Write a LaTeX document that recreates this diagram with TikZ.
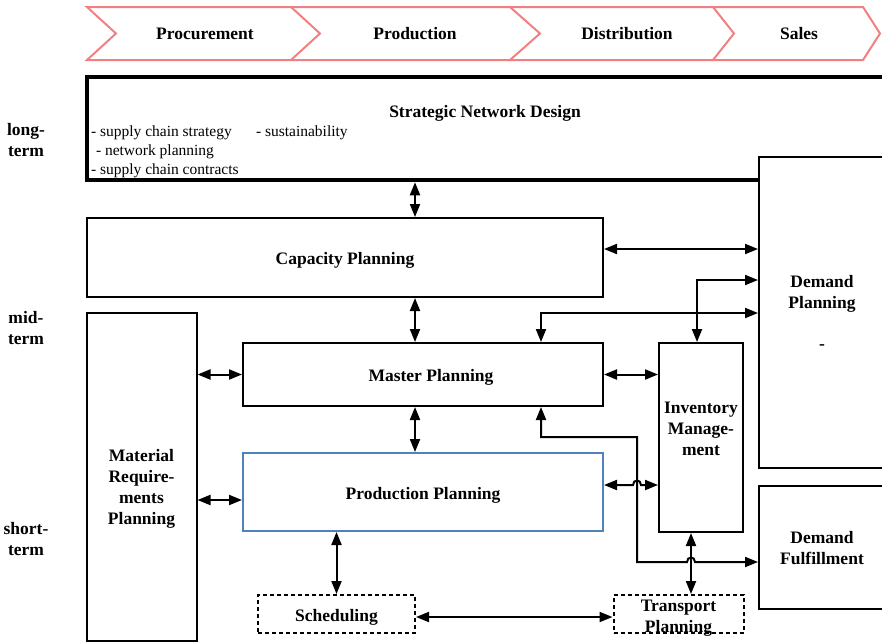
\documentclass[tikz,border=0pt]{standalone}
\usepackage{fontspec}
\setmainfont{Liberation Serif}
\usetikzlibrary{arrows.meta}
\definecolor{chevron}{RGB}{242,128,128}
\definecolor{ppblue}{RGB}{79,129,189}
\newcommand{\bfbig}{\bfseries\fontsize{17.5}{21}\selectfont}
\newcommand{\plaintxt}{\fontsize{15.5}{19}\selectfont}

\begin{document}
\begin{tikzpicture}[x=1pt,y=-1pt,line width=2pt,>={Triangle[length=13pt,width=10pt]},
  box/.style={draw,inner sep=0pt},
  dashbox/.style={box,dash pattern=on 4pt off 3pt},
  lbl/.style={inner sep=0pt,align=center,font=\bfbig},
  txt/.style={inner sep=0pt,anchor=west,font=\plaintxt},
  chev/.style={draw=chevron,line width=2pt}]
  \useasboundingbox (0,0) rectangle (882,643);
  \clip (0,0) rectangle (882,643);

  % time horizon
  \node[lbl] (long) at (26,140) {long-\\term};
  \node[lbl] (mid) at (26,328) {mid-\\term};
  \node[lbl] (short) at (26,539) {short-\\term};

  % supply chain processes
  \draw[chev] (87,7) -- (291,7) -- (320,33.5) -- (291,60) -- (87,60) -- (116,33.5) -- cycle;
  \draw[chev] (291,7) -- (510,7) -- (540,33.5) -- (510,60) -- (291,60);
  \draw[chev] (510,7) -- (713,7) -- (734,33.5) -- (713,60) -- (510,60);
  \draw[chev] (713,7) -- (863,7) -- (880,33.5) -- (863,60) -- (713,60);
  \node[lbl] (proc) at (205,34) {Procurement};
  \node[lbl] (prod) at (415,34) {Production};
  \node[lbl] (dist) at (627,34) {Distribution};
  \node[lbl] (sales) at (799,34) {Sales};

  % strategic network design
  \node[box,line width=4.5pt,minimum width=803,minimum height=103] (snd) at (488.5,128.5) {};
  \node[lbl] (sndt) at (485,113) {Strategic Network Design};
  \node[txt] (s1) at (90,133) {- supply chain strategy};
  \node[txt] (s2) at (255,133) {- sustainability};
  \node[txt] (s3) at (95,152) {- network planning};
  \node[txt] (s4) at (90,171) {- supply chain contracts};

  % planning boxes
  \node[box,fill=white,minimum width=126,minimum height=311,
    label={[lbl]center:{Demand\\Planning\\[20pt]-}}] (dp) at (822,312.5) {};
  \node[box,minimum width=126,minimum height=123,
    label={[lbl,yshift=-1pt]center:{Demand\\Fulfillment}}] (df) at (822,547.5) {};
  \node[box,minimum width=516,minimum height=79,
    label={[lbl,yshift=-3pt]center:Capacity Planning}] (cap) at (345,257.5) {};
  \node[box,minimum width=360,minimum height=63,
    label={[lbl,xshift=8pt,yshift=-3pt]center:Master Planning}] (mp) at (423,374.5) {};
  \node[box,draw=ppblue,minimum width=360,minimum height=78,
    label={[lbl,yshift=-3pt]center:Production Planning}] (pp) at (423,492) {};
  \node[box,minimum width=110,minimum height=328,
    label={[lbl,yshift=-12pt]center:{Material\\Require-\\ments\\Planning}}] (mrp) at (141.5,477) {};
  \node[box,minimum width=84,minimum height=189,
    label={[lbl,yshift=9pt]center:{Inventory\\Manage-\\ment}}] (inv) at (701,437.5) {};
  \node[dashbox,minimum width=157,minimum height=38,
    label={[lbl,yshift=-3pt]center:Scheduling}] (sched) at (336.5,614) {};
  \node[dashbox,minimum width=130,minimum height=38,
    label={[lbl,yshift=-4pt]center:{Transport\\Planning}}] (trans) at (678.5,614) {};

  % connectors
  \coordinate (spine) at (415,0);
  \coordinate (r1) at (0,249);
  \coordinate (r2) at (0,500);
  \coordinate (r3) at (0,485);
  \coordinate (r4) at (0,617);
  \coordinate (k1) at (541,313);
  \coordinate (k2) at (697,280);
  \coordinate (k3) at (541,437);
  \coordinate (k4) at (637,562);
  \coordinate (k5) at (691,0);
  \draw[<->] (snd.south -| spine) -- (cap.north -| spine);
  \draw[<->] (cap.south -| spine) -- (mp.north -| spine);
  \draw[<->] (mp.south -| spine) -- (pp.north -| spine);
  \draw[<->] (cap.east |- r1) -- (dp.west |- r1);
  \draw[<->] (mp.north -| k1) |- (dp.west |- k1);
  \draw[<->] (inv.north -| k2) |- (dp.west |- k2);
  \draw[<->] (mrp.east |- mp.west) -- (mp.west);
  \draw[<->] (mrp.east |- r2) -- (pp.west |- r2);
  \draw[<->] (mp.east) -- (inv.west |- mp.east);
  \draw[<->] (pp.east |- r3) -- (633,485) .. controls (633,479) and (641,479) .. (641,485) -- (inv.west |- r3);
  \draw[<->] (mp.south -| k3) -- (k3) -| (k4) -- (687,562) .. controls (687,556) and (695,556) .. (695,562) -- (df.west |- k4);
  \draw[<->] (inv.south -| k5) -- (trans.north -| k5);
  \draw[<->] (pp.south -| sched.north) -- (sched.north);
  \draw[<->] (sched.east |- r4) -- (trans.west |- r4);
\end{tikzpicture}
\end{document}
